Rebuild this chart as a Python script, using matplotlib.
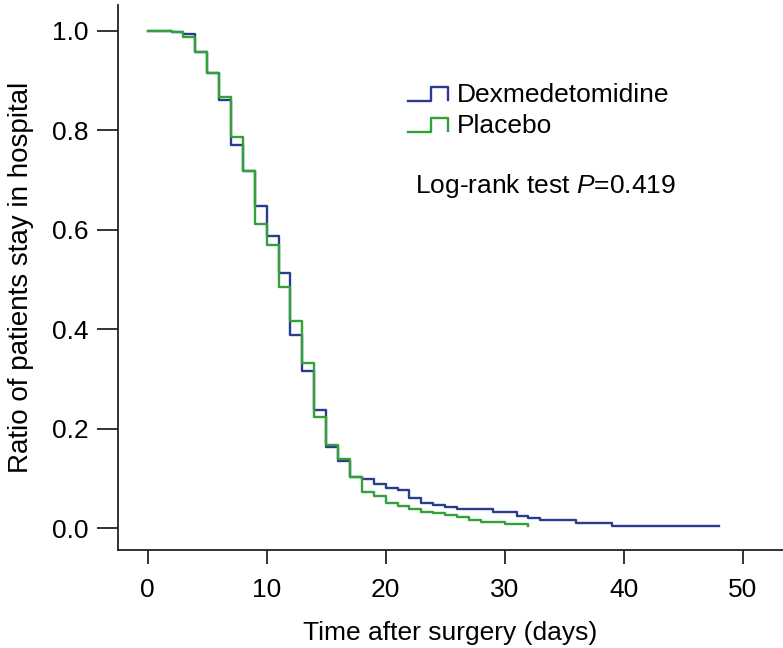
import numpy as np
import matplotlib
matplotlib.use("Agg")
import matplotlib.pyplot as plt
from matplotlib.legend_handler import HandlerBase
from matplotlib.lines import Line2D

plt.rcParams['font.family'] = ['Liberation Sans', 'DejaVu Sans']
plt.rcParams['mathtext.fontset'] = 'custom'
plt.rcParams['mathtext.it'] = 'Liberation Sans:italic'
plt.rcParams['mathtext.rm'] = 'Liberation Sans'

# Kaplan-Meier steps (day, ratio still in hospital)
dex_days = [0, 2, 3, 4, 5, 6, 7, 8, 9, 10, 11, 12, 13, 14, 15, 16, 17, 18,
            19, 20, 21, 22, 23, 24, 25, 26, 29, 31, 32, 33, 36, 39, 48]
dex_ratio = [1.0, 0.998, 0.994, 0.958, 0.916, 0.861, 0.771, 0.718, 0.648,
             0.588, 0.513, 0.388, 0.316, 0.237, 0.163, 0.135, 0.103, 0.098,
             0.089, 0.080, 0.077, 0.060, 0.050, 0.046, 0.042, 0.038, 0.032,
             0.025, 0.021, 0.016, 0.010, 0.004, 0.004]

pla_days = [0, 2, 3, 4, 5, 6, 7, 8, 9, 10, 11, 12, 13, 14, 15, 16, 17, 18,
            19, 20, 21, 22, 23, 24, 25, 26, 27, 28, 30, 32]
pla_ratio = [1.0, 0.998, 0.988, 0.958, 0.916, 0.867, 0.787, 0.718, 0.612,
             0.569, 0.485, 0.417, 0.332, 0.223, 0.167, 0.139, 0.103, 0.072,
             0.064, 0.050, 0.044, 0.038, 0.032, 0.030, 0.026, 0.022, 0.016,
             0.012, 0.008, 0.004]

groups = ['Dexmedetomidine', 'Placebo']
colors = ['#2b3c8c', '#33a03a']
x_ticks = [0, 10, 20, 30, 40, 50]
y_ticks = [0.0, 0.2, 0.4, 0.6, 0.8, 1.0]


class StepHandler(HandlerBase):
    # legend key drawn as a little step, like SPSS does
    def create_artists(self, legend, orig_handle, xdescent, ydescent,
                       width, height, fontsize, trans):
        xs = np.array([0.0, 0.55, 0.55, 0.95, 0.95]) * width - xdescent
        ys = np.array([0.05, 0.05, 0.8, 0.8, 0.1]) * height - ydescent
        ln = Line2D(xs, ys, color=orig_handle.get_color(),
                    lw=orig_handle.get_linewidth())
        ln.set_transform(trans)
        return [ln]


fig = plt.figure(figsize=(7.83, 6.48), dpi=100)
ax = fig.add_axes([118 / 783, 1 - 550 / 648, 1 - 118 / 783, 545 / 648])

h1, = ax.step(dex_days, dex_ratio, where='post', color=colors[0], lw=1.7)
h2, = ax.step(pla_days, pla_ratio, where='post', color=colors[1], lw=1.7)

ax.set_xlim(-2.5, 53.4)
ax.set_ylim(-0.044, 1.052)
ax.set_xticks(x_ticks)
ax.set_yticks(y_ticks)
ax.set_yticklabels(['%.1f' % v for v in y_ticks])

for s in ['top', 'right']:
    ax.spines[s].set_visible(False)
for s in ['left', 'bottom']:
    ax.spines[s].set_linewidth(1.3)
    ax.spines[s].set_color('#222222')

ax.tick_params(axis='y', length=15, width=1.3, labelsize=19, pad=6, color='#222222')
ax.tick_params(axis='x', length=10, width=1.3, labelsize=19, pad=10, color='#222222')

ax.set_xlabel('Time after surgery (days)', fontsize=19, labelpad=14)
ax.set_ylabel('Ratio of patients stay in hospital', fontsize=20, labelpad=13)

leg = ax.legend([h1, h2], groups, handler_map={Line2D: StepHandler()},
                loc='upper left', bbox_to_anchor=(408 / 783, 1 - 83 / 648),
                bbox_transform=fig.transFigure, frameon=False, fontsize=19,
                handlelength=1.6, handletextpad=0.25, labelspacing=0.25,
                borderpad=0, borderaxespad=0)

fig.text(415 / 783, 1 - 186 / 648, 'Log-rank test $P$=0.419', fontsize=19,
         va='center', ha='left')

fig.savefig('out.png', dpi=100)
